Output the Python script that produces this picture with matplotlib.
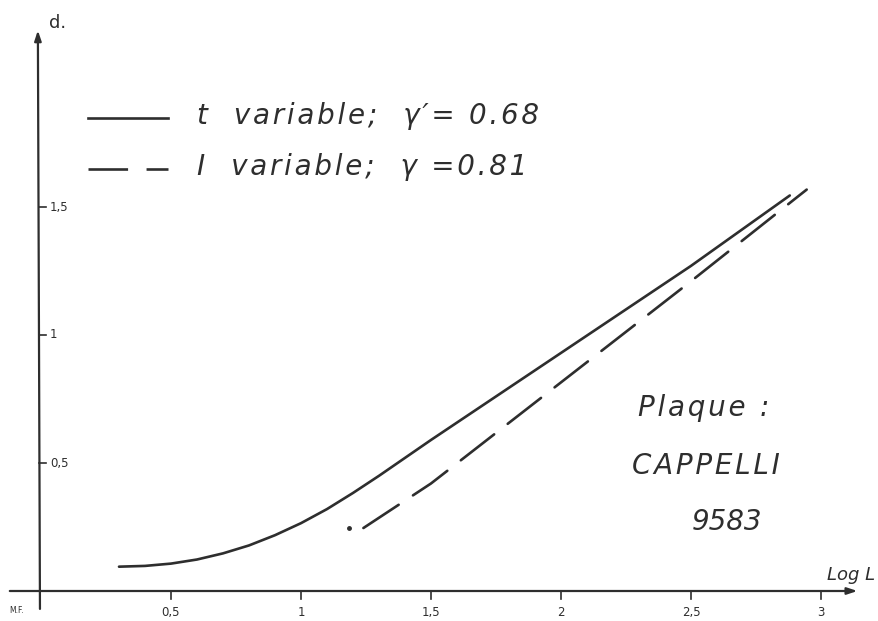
import matplotlib
matplotlib.use("Agg")
import matplotlib.pyplot as plt
from matplotlib.lines import Line2D

# ---- data ----
t_logL = [0.30, 0.40, 0.50, 0.60, 0.70, 0.80, 0.90, 1.00, 1.10, 1.20, 1.30,
          1.40, 1.50, 2.00, 2.50, 2.88]
t_d    = [0.095, 0.098, 0.107, 0.123, 0.147, 0.178, 0.218, 0.265, 0.32, 0.383,
          0.45, 0.52, 0.59, 0.93, 1.27, 1.545]

i_logL = [1.24, 1.50, 2.00, 2.50, 2.91, 2.945]
i_d    = [0.246, 0.42, 0.815, 1.21, 1.54, 1.568]
i_dot_logL = [1.185]
i_dot_d = [0.246]

x_ticks = [0.5, 1, 1.5, 2, 2.5, 3]
x_tick_labels = ["0,5", "1", "1,5", "2", "2,5", "3"]
y_ticks = [0.5, 1, 1.5]
y_tick_labels = ["0,5", "1", "1,5"]

legend_labels = ["t  variable;  \u03b3\u2032= 0.68", "I  variable;  \u03b3 =0.81"]
plate_text = ["Plaque :", "CAPPELLI", "9583"]

ink = "#2e2e2e"
W, H = 879, 621
fig = plt.figure(figsize=(W / 100, H / 100), dpi=100)
ax = fig.add_axes([0, 0, 1, 1])
# pixel mapping: x=0 at px 41, 260 px/unit ; y=0 at px 591 (from top), 256 px/unit
ax.set_xlim(-41 / 260, (W - 41) / 260)
ax.set_ylim(-(H - 591) / 256, 591 / 256)
ax.axis("off")


def px(xp, yp):
    return fig.transFigure.inverted().transform(
        fig.dpi_scale_trans.transform((xp / 100, (H - yp) / 100)))


def spaced(s):
    return "\u200a".join(s)


# axes with arrows
ax.annotate("", xy=(3.14, 0), xytext=(-0.12, 0),
            arrowprops=dict(arrowstyle="-|>,head_length=0.6,head_width=0.2",
                            color=ink, lw=1.6, shrinkA=0, shrinkB=0))
ax.annotate("", xy=(-0.012, 2.19), xytext=(-0.004, -0.07),
            arrowprops=dict(arrowstyle="-|>,head_length=0.6,head_width=0.2",
                            color=ink, lw=1.6, shrinkA=0, shrinkB=0))

for xt, lab in zip(x_ticks, x_tick_labels):
    ax.plot([xt, xt], [0, -0.03], color=ink, lw=1.2)
    ax.text(xt, -0.06, lab, ha="center", va="top", fontsize=8.5, color=ink)
for yt, lab in zip(y_ticks, y_tick_labels):
    ax.plot([-0.008, 0.02], [yt, yt], color=ink, lw=1.2)
    ax.text(0.035, yt, lab, ha="left", va="center", fontsize=8.5, color=ink)

ax.text(-0.095, -0.06, "M.F.", ha="center", va="top", fontsize=5.5, color=ink)
ax.text(0.03, 2.22, "d.", ha="left", va="center", fontsize=13, color=ink)
p = px(875, 575)
fig.text(p[0], p[1], "Log L", ha="right", va="center", fontsize=13,
         style="italic", color=ink)

# curves
ax.plot(t_logL, t_d, color=ink, lw=1.9, solid_capstyle="round",
        solid_joinstyle="round")
ax.plot(i_logL, i_d, color=ink, lw=1.9, linestyle=(0, (16, 6.5)),
        dash_capstyle="round")
ax.plot(i_dot_logL, i_dot_d, "o", color=ink, ms=2.5)

# legend (hand-drawn style)
a, b = px(88, 118), px(168, 118)
fig.add_artist(Line2D([a[0], b[0]], [a[1], b[1]], color=ink, lw=1.9))
a, b = px(88, 169), px(168, 169)
fig.add_artist(Line2D([a[0], b[0]], [a[1], b[1]], color=ink, lw=1.9,
                      linestyle=(0, (15, 7))))
for lab, yp in zip(legend_labels, [116, 167]):
    p = px(197, yp)
    fig.text(p[0], p[1], spaced(lab), ha="left", va="center", fontsize=20,
             style="italic", color=ink)

plate_fmt = [spaced, spaced, lambda s: s]
for lab, fmt, (xp, yp) in zip(plate_text, plate_fmt,
                              [(638, 408), (632, 466), (692, 522)]):
    p = px(xp, yp)
    fig.text(p[0], p[1], fmt(lab), ha="left", va="center", fontsize=20,
             style="italic", color=ink)

fig.savefig("out.png", dpi=100, facecolor="white")
